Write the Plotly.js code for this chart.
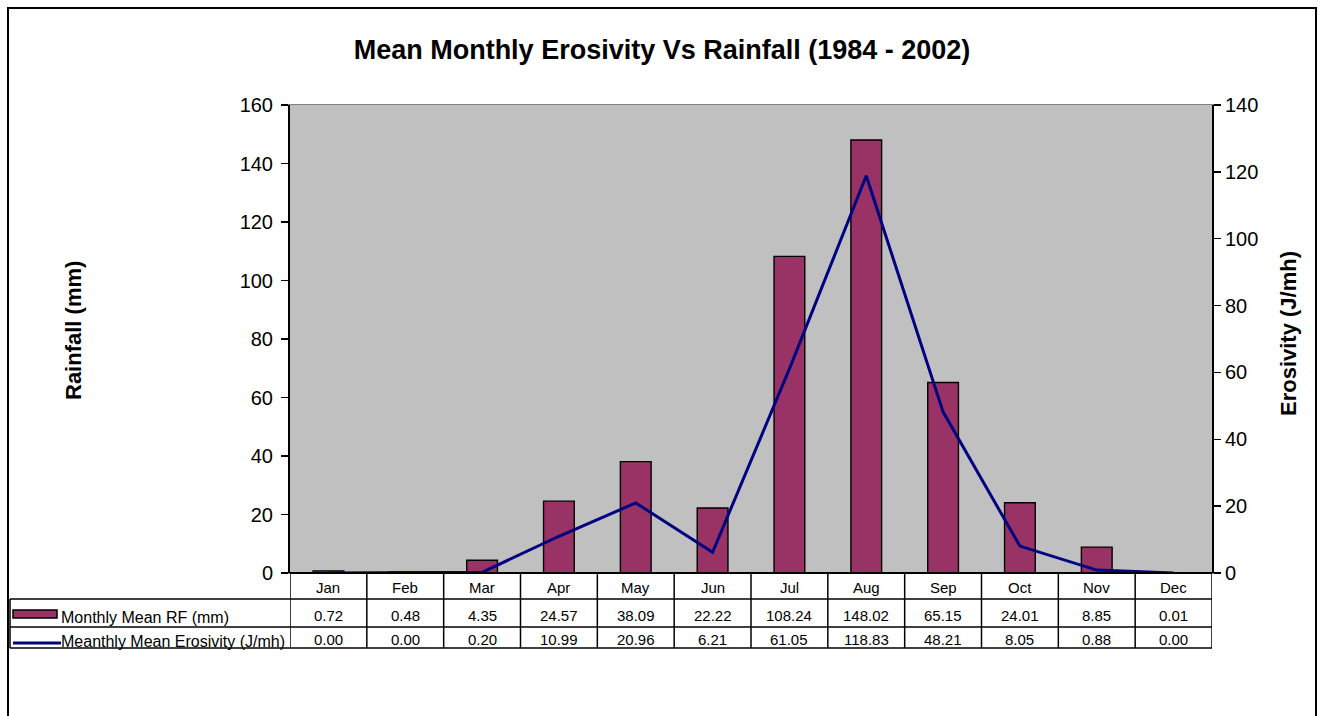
<!DOCTYPE html>
<html>
<head>
<meta charset="utf-8">
<script src="https://cdn.plot.ly/plotly-3.0.1.min.js"></script>
<style>html,body{margin:0;padding:0;background:#fff;}#chart{width:1324px;height:716px;}</style>
</head>
<body>
<div id="chart"></div>
<script>
const months = ["Jan","Feb","Mar","Apr","May","Jun","Jul","Aug","Sep","Oct","Nov","Dec"];
const rainfall = [0.72,0.48,4.35,24.57,38.09,22.22,108.24,148.02,65.15,24.01,8.85,0.01];
const erosivity = [0.00,0.00,0.20,10.99,20.96,6.21,61.05,118.83,48.21,8.05,0.88,0.00];
const rainName = "Monthly Mean RF (mm)";
const erosName = "Meanthly Mean Erosivity (J/mh)";

const W = 1324, H = 716;
const L = 290, R = 1212, T = 105, B = 573;
const px = p => (p - L) / (R - L);
const py = p => (B - p) / (B - T);

const rowHeader = 599, row1 = 627, row2 = 648;
const labelLeft = 10;

const shapes = [];
const line = (x0,y0,x1,y1,xref,w,c) => shapes.push({type:'line',xref:xref||'paper',yref:'paper',x0,y0,x1,y1,line:{color:c||'#000',width:w||1}});

// outer frame
shapes.push({type:'rect',xref:'paper',yref:'paper',x0:px(8),x1:px(1316),y0:py(730),y1:py(8),line:{color:'#000',width:2},fillcolor:'rgba(0,0,0,0)'});
// table horizontal lines
line(px(L),py(B),px(R),py(B),'paper',2);
line(px(labelLeft),py(rowHeader),px(R),py(rowHeader),'paper',1.5);
line(px(labelLeft),py(row1),px(R),py(row1),'paper',1.5);
line(px(labelLeft),py(row2),px(R),py(row2),'paper',1.5);
// table vertical lines
for (let i = 0; i <= months.length; i++) {
  shapes.push({type:'line',xref:'x',yref:'paper',x0:i-0.5,x1:i-0.5,y0:py(B),y1:py(row2),line:{color:'#000',width:1.5}});
}
line(px(labelLeft),py(rowHeader),px(labelLeft),py(row2),'paper',1.5);
// legend keys
shapes.push({type:'rect',xref:'paper',yref:'paper',x0:px(13),x1:px(57),y0:py(618),y1:py(610),fillcolor:'#993366',line:{color:'#000',width:1.5}});
line(px(13),py(643),px(61),py(643),'paper',3,'#000080');

const annotations = [];
const monthFont = {family:'Liberation Sans, Arial, sans-serif',size:15,color:'#000'};
const numFont = {family:'Liberation Sans Narrow, Arial Narrow, Liberation Sans, sans-serif',size:15,color:'#000'};
const labFont = {family:'Liberation Sans, Arial, sans-serif',size:16,color:'#000'};
months.forEach((m,i) => {
  annotations.push({xref:'x',yref:'paper',x:i,y:py(587),text:m,showarrow:false,font:monthFont,xanchor:'center',yanchor:'middle'});
  annotations.push({xref:'x',yref:'paper',x:i,y:py(615),text:rainfall[i].toFixed(2),showarrow:false,font:numFont,xanchor:'center',yanchor:'middle'});
  annotations.push({xref:'x',yref:'paper',x:i,y:py(639),text:erosivity[i].toFixed(2),showarrow:false,font:numFont,xanchor:'center',yanchor:'middle'});
});
annotations.push({xref:'paper',yref:'paper',x:px(59),y:py(617),text:rainName,showarrow:false,font:labFont,xanchor:'left',yanchor:'middle'});
annotations.push({xref:'paper',yref:'paper',x:px(59),y:py(641),text:erosName,showarrow:false,font:labFont,xanchor:'left',yanchor:'middle'});
const axFont = {family:'Liberation Sans, Arial, sans-serif',size:22,color:'#000'};
annotations.push({xref:'paper',yref:'paper',x:px(73),y:py(331),text:'<b>Rainfall (mm)</b>',textangle:-90,showarrow:false,font:axFont,xanchor:'center',yanchor:'middle'});
annotations.push({xref:'paper',yref:'paper',x:px(1288),y:py(334),text:'<b>Erosivity (J/mh)</b>',textangle:-90,showarrow:false,font:axFont,xanchor:'center',yanchor:'middle'});

const data = [
  {type:'bar',x:months,y:rainfall,name:rainName,width:0.4,marker:{color:'#993366',line:{color:'#000',width:1.4}},yaxis:'y',hoverinfo:'none'},
  {type:'scatter',mode:'lines',x:months,y:erosivity,name:erosName,line:{color:'#000080',width:3},yaxis:'y2',hoverinfo:'none'}
];

const tickFont = {family:'Liberation Sans, Arial, sans-serif',size:20,color:'#000'};
const layout = {
  width:W,height:H,
  margin:{l:L,r:W-R,t:T,b:H-B,pad:0},
  paper_bgcolor:'#fff',plot_bgcolor:'#c0c0c0',
  showlegend:false,
  title:{text:'<b>Mean Monthly Erosivity Vs Rainfall (1984 - 2002)</b>',xref:'container',yref:'container',x:0.5,xanchor:'center',y:1-50/H,yanchor:'middle',font:{family:'Liberation Sans, Arial, sans-serif',size:27,color:'#000'}},
  xaxis:{type:'category',range:[-0.5,11.5],showticklabels:false,ticks:'',showgrid:false,zeroline:false,showline:true,linecolor:'#808080',linewidth:1,mirror:true,fixedrange:true},
  yaxis:{range:[0,160],dtick:20,tick0:0,ticks:'outside',ticklen:7,tickwidth:1.5,tickcolor:'#000',ticklabelstandoff:4,showgrid:false,zeroline:false,showline:true,linecolor:'#000',linewidth:2,tickfont:tickFont,fixedrange:true},
  yaxis2:{range:[0,140],dtick:20,tick0:0,overlaying:'y',side:'right',ticks:'outside',ticklen:7,tickwidth:1.5,tickcolor:'#000',showgrid:false,zeroline:false,showline:true,linecolor:'#000',linewidth:2,tickfont:tickFont,fixedrange:true},
  shapes,annotations
};
Plotly.newPlot('chart',data,layout,{displayModeBar:false,staticPlot:true});
</script>
</body>
</html>
